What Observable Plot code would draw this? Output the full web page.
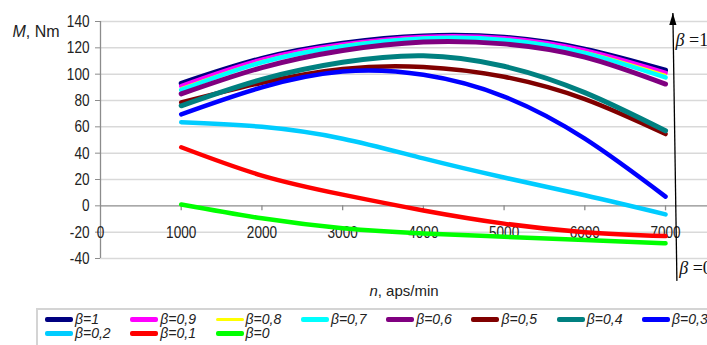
<!DOCTYPE html>
<html><head><meta charset="utf-8">
<script src="https://cdn.jsdelivr.net/npm/d3@7"></script>
<script src="https://cdn.jsdelivr.net/npm/@observablehq/plot@0.6"></script>
<style>
body{margin:0;background:#fff;}
#wrap{position:relative;width:707px;height:345px;overflow:hidden;background:#fff;}
#legendBox{position:absolute;left:36px;top:308px;width:700px;height:60px;border:2px solid #d4d4d4;box-sizing:border-box;}
#legend{position:absolute;left:45px;top:312px;display:grid;grid-template-columns:repeat(8,85.3px);grid-auto-rows:14px;}
.item{display:flex;align-items:center;font-family:"Liberation Sans",Arial,sans-serif;font-style:italic;font-size:14px;line-height:14px;color:#222;white-space:nowrap;}
.sw{width:28px;border-radius:2px;margin-right:2px;}
</style></head><body><div id="wrap"><div id="legendBox"></div><div id="legend"></div></div>
<script>
// x values (rotation speed n, aps/min)
const nValues = [1000, 2000, 3000, 4000, 5000, 6000, 7000];
// torque M, Nm for each beta
const M_b10 = [93, 112, 123.5, 129, 128, 119, 103];
const M_b09 = [91, 111, 122.5, 128.3, 127.3, 118, 101];
const M_b08 = [89.5, 110, 122, 127.6, 126.6, 117, 99.5];
const M_b07 = [88, 109, 121, 127, 126, 116, 97.5];
const M_b06 = [85, 105, 118, 124.5, 123, 113, 92.5];
const M_b05 = [78.5, 93.5, 104, 105.5, 98, 81, 54.5];
const M_b04 = [76, 96, 109, 114, 106, 86, 57];
const M_b03 = [69.5, 90, 102, 99.5, 83, 51, 7];
const M_b02 = [63.5, 60, 51, 36, 21.5, 8, -6.5];
const M_b01 = [44.5, 23, 8.5, -3.5, -13.5, -20, -23];
const M_b00 = [1, -9.5, -17, -21, -23.5, -26, -28.5];

const legendLabels = ["β=1","β=0,9","β=0,8","β=0,7","β=0,6","β=0,5","β=0,4","β=0,3","β=0,2","β=0,1","β=0"];
const seriesColors = ["#000080","#ff00ff","#ffff00","#00ffff","#800080","#800000","#008080","#0000ff","#00ccff","#ff0000","#00ff00"];
const seriesWidths = [5, 4.5, 2, 4.5, 5, 4.5, 5, 4.5, 4.5, 4.5, 4.5];
const seriesValues = [M_b10, M_b09, M_b08, M_b07, M_b06, M_b05, M_b04, M_b03, M_b02, M_b01, M_b00];

const yTicks = [-40, -20, 0, 20, 40, 60, 80, 100, 120, 140];
const xTicks = [0, 1000, 2000, 3000, 4000, 5000, 6000, 7000];
const yTitle = "M, Nm";
const xTitle = "n, aps/min";
// beta arrow annotation (n, M)
const arrowN = [7141, 7091];
const arrowM = [-57, 146.5];
const arrowLabels = [{n: 7125, M: 126, t: "β =1"}, {n: 7170, M: -47.5, t: "β =0"}];

const series = seriesValues.map((vals, i) => ({
  label: legendLabels[i], color: seriesColors[i], w: seriesWidths[i],
  rows: vals.map((v, j) => ({n: nValues[j], M: v}))
}));

const headSymbol = {draw(ctx) { ctx.moveTo(0, 0); ctx.lineTo(3.6, 12); ctx.lineTo(-3.6, 12); ctx.closePath(); }};

const plot = Plot.plot({
  width: 707, height: 305,
  marginLeft: 100, marginRight: 0, marginTop: 21, marginBottom: 47,
  x: {domain: [0, 7520], axis: null},
  y: {domain: [-40, 140], axis: null},
  style: {fontFamily: "'Liberation Sans',Arial,sans-serif", fontSize: "17px", color: "#222", background: "#fff", overflow: "visible"},
  marks: [
    Plot.ruleY(yTicks.filter(d => d !== 0), {stroke: "#d9d9d9", strokeWidth: 1.5}),
    Plot.ruleY([0], {stroke: "#8c8c8c", strokeWidth: 1.3}),
    Plot.ruleX([0], {y1: -40, y2: 140, stroke: "#8c8c8c", strokeWidth: 1.3}),
    Plot.axisY({ticks: yTicks, tickSize: 5, tickPadding: 6, label: null, stroke: "#8c8c8c", fill: "#222", tickFormat: d => String(d), className: "yTicks"}),
    Plot.ruleX(xTicks.slice(1), {y1: 0, y2: -3.8, stroke: "#8c8c8c", strokeWidth: 1.3}),
    Plot.text(xTicks, {x: d => d, y: -20, text: d => String(d), fill: "#222", className: "xTicks"}),
    ...series.map(s => Plot.line(s.rows, {x: "n", y: "M", stroke: s.color, strokeWidth: s.w, curve: "natural"})),
    Plot.link([0], {x1: () => arrowN[0], y1: () => arrowM[0], x2: () => arrowN[1], y2: () => arrowM[1], stroke: "#000", strokeWidth: 1.3}),
    Plot.dot([0], {x: () => arrowN[1], y: () => arrowM[1], symbol: headSymbol, fill: "#000", stroke: "none", r: 4}),
    Plot.text(arrowLabels, {x: "n", y: "M", text: "t", textAnchor: "start", fontFamily: "'Liberation Serif','Times New Roman',serif", fontSize: 18, fill: "#111", className: "betaLbl"}),
    Plot.text([yTitle], {frameAnchor: "top-left", dx: -88, dy: 4, textAnchor: "start", fontFamily: "'Liberation Sans',Arial,sans-serif", fontSize: 16, fill: "#222", className: "yTitle"}),
    Plot.text([xTitle], {frameAnchor: "bottom", dy: 37, fontFamily: "'Liberation Sans',Arial,sans-serif", fontSize: 15, fill: "#222", className: "xTitle"})
  ]
});
document.getElementById("wrap").prepend(plot);

// Narrow (condensed) tick labels like the reference
d3.select(plot).selectAll("text").each(function() {
  const el = d3.select(this);
  const inTicks = this.closest(".xTicks, .yTicks") || (this.closest("g") && /tick label/.test(this.closest("g").getAttribute("aria-label") || ""));
  if (inTicks) {
    const tr = el.attr("transform") || "";
    el.attr("transform", tr + " scale(0.8,1)");
  }
});

// Mixed italic styling for titles
function italicFirst(sel, firstLen) {
  d3.select(plot).selectAll(sel + " text").each(function() {
    const el = d3.select(this);
    const t = el.text();
    el.text(null);
    el.append("tspan").attr("font-style", "italic").text(t.slice(0, firstLen));
    el.append("tspan").text(t.slice(firstLen));
  });
}
italicFirst(".yTitle", 1);
italicFirst(".xTitle", 1);
italicFirst(".betaLbl", 1);

// Legend
const lg = d3.select("#legend");
series.forEach(s => {
  const it = lg.append("div").attr("class", "item");
  it.append("div").attr("class", "sw").style("background", s.color).style("height", (s.w <= 2 ? 3 : 5) + "px");
  it.append("span").text(s.label);
});
</script></body></html>
